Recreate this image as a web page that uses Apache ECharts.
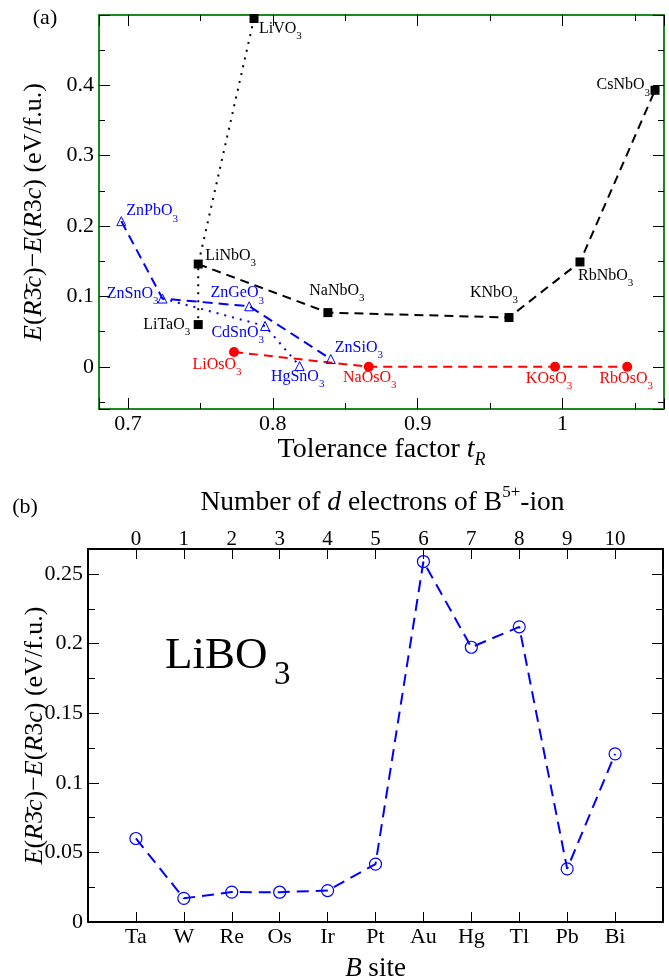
<!DOCTYPE html>
<html>
<head>
<meta charset="utf-8">
<script src="https://cdn.jsdelivr.net/npm/echarts@6/dist/echarts.min.js"></script>
<style>
html, body { margin: 0; padding: 0; background: #fff; }
#chart { width: 669px; height: 979px; }
</style>
</head>
<body>
<div id="chart"></div>
<script>
// panel (a): E(R-3c) - E(R3c) against tolerance factor
const niobateNames = ['LiNbO3', 'NaNbO3', 'KNbO3', 'RbNbO3', 'CsNbO3'];
const niobateT = [0.7485, 0.838, 0.963, 1.012, 1.0638];
const niobateE = [0.146, 0.077, 0.070, 0.149, 0.393];

const lithiumNames = ['LiVO3', 'LiNbO3', 'LiTaO3'];
const lithiumT = [0.787, 0.7485, 0.7485];
const lithiumE = [0.495, 0.146, 0.060];

const osmateNames = ['LiOsO3', 'NaOsO3', 'KOsO3', 'RbOsO3'];
const osmateT = [0.7732, 0.8662, 0.9948, 1.0446];
const osmateE = [0.021, 0, 0, 0];

const zincNames = ['ZnPbO3', 'ZnSnO3', 'ZnGeO3', 'ZnSiO3'];
const zincT = [0.6954, 0.7238, 0.7837, 0.840];
const zincE = [0.207, 0.097, 0.086, 0.011];

const stannateNames = ['ZnSnO3', 'CdSnO3', 'HgSnO3'];
const stannateT = [0.7238, 0.7946, 0.8185];
const stannateE = [0.097, 0.058, 0.001];

// panel (b): LiBO3 for each B site
const bSites = ['Ta', 'W', 'Re', 'Os', 'Ir', 'Pt', 'Au', 'Hg', 'Tl', 'Pb', 'Bi'];
const dElectrons = [0, 1, 2, 3, 4, 5, 6, 7, 8, 9, 10];
const libo3E = [0.060, 0.017, 0.0215, 0.0214, 0.0226, 0.0416, 0.259, 0.1974, 0.2121, 0.0382, 0.1208];

// where each compound's name sits next to its marker: [align, dx, dy]
const labelPlace = {
  LiVO3: ['left', 5, 10],
  LiNbO3: ['left', 7, -8],
  LiTaO3: ['right', -8, 0],
  NaNbO3: ['center', 9, -22],
  KNbO3: ['center', -15, -25],
  RbNbO3: ['left', -2, 14],
  CsNbO3: ['right', -5, -5],
  ZnPbO3: ['left', 5, -10],
  ZnSnO3: ['right', -4, -5],
  ZnGeO3: ['center', -12, -13],
  CdSnO3: ['right', -1, 7],
  HgSnO3: ['center', -2, 11],
  ZnSiO3: ['left', 4, -11],
  LiOsO3: ['center', -17, 13],
  NaOsO3: ['center', 1, 11],
  KOsO3: ['center', -6, 12],
  RbOsO3: ['center', -1, 12]
};

const serif = 'Liberation Serif';
const green = '#1c8a1c';

function pairs(ts, es) {
  return ts.map((t, i) => [t, es[i]]);
}

function points(names, ts, es) {
  return names.map((n, i) => {
    const pl = labelPlace[n];
    return { name: n, value: [ts[i], es[i]], label: { align: pl[0], offset: [pl[1], pl[2]] } };
  });
}

function uniq(list) {
  const seen = {};
  return list.filter(p => (seen[p.name] ? false : (seen[p.name] = true)));
}

function chemLabel(color) {
  return {
    show: true,
    position: 'inside',
    color: color,
    opacity: 1,
    formatter: p => '{m|' + p.name.replace(/\d+$/, '') + '}{s|' + p.name.match(/\d+$/)[0] + '}',
    rich: {
      m: { fontFamily: serif, fontSize: 16, color: color, lineHeight: 26, verticalAlign: 'middle' },
      s: { fontFamily: serif, fontSize: 11, color: color, lineHeight: 10, verticalAlign: 'bottom' }
    }
  };
}

function lineSeries(data, color, dash, width) {
  return {
    type: 'line', xAxisIndex: 0, yAxisIndex: 0, data: data,
    symbol: 'none', silent: true, z: 2,
    lineStyle: { color: color, width: width, type: dash }
  };
}

const blackPts = uniq(points(lithiumNames, lithiumT, lithiumE).concat(points(niobateNames, niobateT, niobateE)));
const redPts = points(osmateNames, osmateT, osmateE);
const bluePts = uniq(points(zincNames, zincT, zincE).concat(points(stannateNames, stannateT, stannateE)));

const tickStyle = { color: '#000', width: 1 };
const noSplit = { show: false };

function fmtTop(v) {
  return (v < -0.001 || v > 0.45) ? '' : String(+v.toFixed(2));
}
function fmtTol(v) {
  return (v < 0.69 || v > 1.01) ? '' : String(+v.toFixed(2));
}
function fmtLib(v) {
  return v > 0.26 ? '' : String(+v.toFixed(3));
}

const chart = echarts.init(document.getElementById('chart'), null, { renderer: 'canvas' });

const option = {
  animation: false,
  backgroundColor: '#fff',
  grid: [
    { left: 99, top: 15, width: 565, height: 394, outerBoundsMode: 'none' },
    { left: 88, top: 549, width: 575, height: 373, outerBoundsMode: 'none' }
  ],
  xAxis: [
    {
      gridIndex: 0, type: 'value', position: 'bottom', min: 0.68, max: 1.07,
      minInterval: 0.1, maxInterval: 0.1,
      axisLine: { onZero: false, lineStyle: { color: green, width: 2 } },
      axisTick: { inside: true, length: 11, lineStyle: tickStyle },
      axisLabel: { margin: 4, fontFamily: serif, fontSize: 22, color: '#000', formatter: fmtTol },
      splitLine: noSplit,
      name: 'Tolerance factor {i|t}{s|R}', nameLocation: 'middle', nameGap: 22,
      nameTextStyle: {
        fontFamily: serif, fontSize: 28, color: '#000',
        rich: {
          i: { fontFamily: serif, fontSize: 28, fontStyle: 'italic', color: '#000', lineHeight: 38, verticalAlign: 'middle' },
          s: { fontFamily: serif, fontSize: 18, fontStyle: 'italic', color: '#000', lineHeight: 14, verticalAlign: 'bottom' }
        }
      }
    },
    {
      gridIndex: 0, type: 'value', position: 'bottom', min: 0.68, max: 1.07,
      minInterval: 0.05, maxInterval: 0.05,
      axisLine: { show: false, onZero: false },
      axisTick: { inside: true, length: 6, lineStyle: tickStyle },
      axisLabel: { show: false }, splitLine: noSplit
    },
    {
      gridIndex: 0, type: 'value', position: 'top', min: 0.68, max: 1.07,
      minInterval: 0.1, maxInterval: 0.1,
      axisLine: { onZero: false, lineStyle: { color: green, width: 2 } },
      axisTick: { inside: true, length: 11, lineStyle: tickStyle },
      axisLabel: { show: false }, splitLine: noSplit
    },
    {
      gridIndex: 0, type: 'value', position: 'top', min: 0.68, max: 1.07,
      minInterval: 0.05, maxInterval: 0.05,
      axisLine: { show: false, onZero: false },
      axisTick: { inside: true, length: 6, lineStyle: tickStyle },
      axisLabel: { show: false }, splitLine: noSplit
    },
    {
      gridIndex: 1, type: 'value', position: 'bottom', min: -1, max: 11, interval: 1,
      axisLine: { onZero: false, lineStyle: { color: '#000', width: 2 } },
      axisTick: { inside: true, length: 10, lineStyle: tickStyle },
      axisLabel: {
        margin: 4, fontFamily: serif, fontSize: 22, color: '#000',
        formatter: v => bSites[Math.round(v)] || ''
      },
      splitLine: noSplit,
      name: '{i|B} site', nameLocation: 'middle', nameGap: 33, nameMoveOverlap: false,
      nameTextStyle: {
        fontFamily: serif, fontSize: 27, color: '#000',
        rich: { i: { fontFamily: serif, fontSize: 27, fontStyle: 'italic', color: '#000' } }
      }
    },
    {
      gridIndex: 1, type: 'value', position: 'top', min: -1, max: 11, interval: 1,
      axisLine: { onZero: false, lineStyle: { color: '#000', width: 2 } },
      axisTick: { inside: true, length: 10, lineStyle: tickStyle },
      axisLabel: {
        margin: -1, fontFamily: serif, fontSize: 21, color: '#000',
        formatter: v => {
          const d = dElectrons[Math.round(v)];
          return d === undefined ? '' : String(d);
        }
      },
      splitLine: noSplit,
      name: 'Number of {i|d} electrons of B{sup|5+}-ion', nameLocation: 'middle', nameGap: 27,
      nameTextStyle: {
        fontFamily: serif, fontSize: 27.5, color: '#000', padding: [0, 0, 0, 14],
        rich: {
          i: { fontFamily: serif, fontSize: 27.5, fontStyle: 'italic', color: '#000', lineHeight: 38, verticalAlign: 'middle' },
          sup: { fontFamily: serif, fontSize: 17, color: '#000', lineHeight: 14, verticalAlign: 'top' }
        }
      }
    }
  ],
  yAxis: [
    {
      gridIndex: 0, type: 'value', position: 'left', min: -0.06, max: 0.5,
      minInterval: 0.1, maxInterval: 0.1,
      axisLine: { onZero: false, lineStyle: { color: green, width: 2 } },
      axisTick: { inside: true, length: 11, lineStyle: tickStyle },
      axisLabel: { margin: 5, fontFamily: serif, fontSize: 22, color: '#000', formatter: fmtTop },
      splitLine: noSplit,
      name: '{i|E}({i|R}3\u0304{i|c})\u2212{i|E}({i|R}3{i|c}) (eV/f.u.)',
      nameLocation: 'middle', nameGap: 52,
      nameTextStyle: {
        fontFamily: serif, fontSize: 26, color: '#000',
        rich: { i: { fontFamily: serif, fontSize: 26, fontStyle: 'italic', color: '#000' } }
      }
    },
    {
      gridIndex: 0, type: 'value', position: 'left', min: -0.06, max: 0.5,
      minInterval: 0.05, maxInterval: 0.05,
      axisLine: { show: false, onZero: false },
      axisTick: { inside: true, length: 6, lineStyle: tickStyle },
      axisLabel: { show: false }, splitLine: noSplit
    },
    {
      gridIndex: 0, type: 'value', position: 'right', min: -0.06, max: 0.5,
      minInterval: 0.1, maxInterval: 0.1,
      axisLine: { onZero: false, lineStyle: { color: green, width: 2 } },
      axisTick: { inside: true, length: 11, lineStyle: tickStyle },
      axisLabel: { show: false }, splitLine: noSplit
    },
    {
      gridIndex: 0, type: 'value', position: 'right', min: -0.06, max: 0.5,
      minInterval: 0.05, maxInterval: 0.05,
      axisLine: { show: false, onZero: false },
      axisTick: { inside: true, length: 6, lineStyle: tickStyle },
      axisLabel: { show: false }, splitLine: noSplit
    },
    {
      gridIndex: 1, type: 'value', position: 'left', min: 0, max: 0.268, interval: 0.05,
      axisLine: { onZero: false, lineStyle: { color: '#000', width: 2 } },
      axisTick: { inside: true, length: 11, lineStyle: tickStyle },
      axisLabel: { margin: 5, fontFamily: serif, fontSize: 22, color: '#000', formatter: fmtLib },
      splitLine: noSplit,
      name: '{i|E}({i|R}3\u0304{i|c})\u2212{i|E}({i|R}3{i|c}) (eV/f.u.)',
      nameLocation: 'middle', nameGap: 40, nameMoveOverlap: false,
      nameTextStyle: {
        fontFamily: serif, fontSize: 26, color: '#000',
        rich: { i: { fontFamily: serif, fontSize: 26, fontStyle: 'italic', color: '#000' } }
      }
    },
    {
      gridIndex: 1, type: 'value', position: 'left', min: 0, max: 0.268, interval: 0.025,
      axisLine: { show: false, onZero: false },
      axisTick: { inside: true, length: 7, lineStyle: tickStyle },
      axisLabel: { show: false }, splitLine: noSplit
    },
    {
      gridIndex: 1, type: 'value', position: 'right', min: 0, max: 0.268, interval: 0.05,
      axisLine: { onZero: false, lineStyle: { color: '#000', width: 2 } },
      axisTick: { inside: true, length: 11, lineStyle: tickStyle },
      axisLabel: { show: false }, splitLine: noSplit
    },
    {
      gridIndex: 1, type: 'value', position: 'right', min: 0, max: 0.268, interval: 0.025,
      axisLine: { show: false, onZero: false },
      axisTick: { inside: true, length: 7, lineStyle: tickStyle },
      axisLabel: { show: false }, splitLine: noSplit
    }
  ],
  series: [
    lineSeries(pairs(lithiumT, lithiumE), '#000', [2, 6], 2),
    lineSeries(pairs(niobateT, niobateE), '#000', [9, 6], 2),
    lineSeries(pairs(osmateT, osmateE), '#ff0000', [9, 6], 2),
    lineSeries(pairs(zincT, zincE), '#0000ff', [10, 6], 2),
    lineSeries(pairs(stannateT, stannateE), '#0000ff', [2, 6], 2),
    {
      type: 'scatter', xAxisIndex: 0, yAxisIndex: 0, data: blackPts, z: 5,
      symbol: 'rect', symbolSize: 9, itemStyle: { color: '#000', opacity: 1 },
      label: chemLabel('#000'), emphasis: { disabled: true }
    },
    {
      type: 'scatter', xAxisIndex: 0, yAxisIndex: 0, data: redPts, z: 5,
      symbol: 'circle', symbolSize: 10, itemStyle: { color: '#ff0000', opacity: 1 },
      label: chemLabel('#ff0000'), emphasis: { disabled: true }
    },
    {
      type: 'scatter', xAxisIndex: 0, yAxisIndex: 0, data: bluePts, z: 5,
      symbol: 'triangle', symbolSize: 9,
      itemStyle: { color: 'rgba(0,0,0,0)', borderColor: '#0000ff', borderWidth: 1, opacity: 1 },
      label: chemLabel('#0000ff'), emphasis: { disabled: true }
    },
    {
      type: 'line', xAxisIndex: 4, yAxisIndex: 4,
      data: libo3E.map((v, i) => [i, v]),
      symbol: 'circle', symbolSize: 12, showAllSymbol: true,
      lineStyle: { color: '#0000ff', width: 2, type: [12, 7] },
      itemStyle: { color: 'rgba(0,0,0,0)', borderColor: '#0000ff', borderWidth: 1.2 },
      emphasis: { disabled: true }
    }
  ],
  graphic: [
    { type: 'text', x: 45, y: 18, style: { text: '(a)', font: '22px "Liberation Serif"', fill: '#000', align: 'center', verticalAlign: 'middle' } },
    { type: 'text', x: 25, y: 507, style: { text: '(b)', font: '22px "Liberation Serif"', fill: '#000', align: 'center', verticalAlign: 'middle' } },
    { type: 'text', x: 165, y: 656, style: { text: 'LiBO', font: '45px "Liberation Serif"', fill: '#000', align: 'left', verticalAlign: 'middle' } },
    { type: 'text', x: 274, y: 675, style: { text: '3', font: '33px "Liberation Serif"', fill: '#000', align: 'left', verticalAlign: 'middle' } }
  ]
};

chart.setOption(option);
</script>
</body>
</html>
